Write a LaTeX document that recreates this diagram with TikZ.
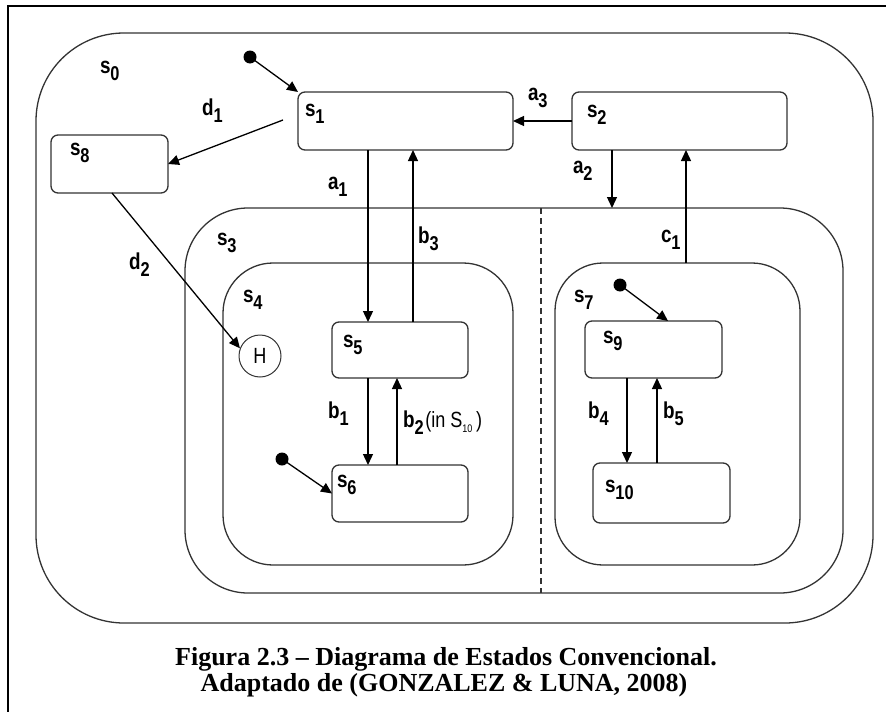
\documentclass[tikz,border=0pt]{standalone}
\usepackage{fontspec}
\setmainfont{Liberation Serif}
\newfontfamily\lblfont[FakeStretch=0.82]{Liberation Sans}
\usetikzlibrary{arrows.meta,calc}
\newcommand{\stl}[2]{{\lblfont\bfseries\fontsize{23}{23}\selectfont #1\raisebox{-7.5pt}{\fontsize{20}{20}\selectfont #2}}}
\begin{document}
\begin{tikzpicture}[x=1pt,y=-1pt,
  container/.style={draw=black!80, line width=1.3pt, rounded corners=#1, outer sep=0pt, inner sep=0pt},
  statebox/.style={draw=black!80, line width=1.3pt, rounded corners=7pt, outer sep=0pt, inner sep=0pt},
  arr/.style={draw=black, line width=1.3pt, -{Triangle[length=11pt,width=10pt]}},
  lab/.style={anchor=base west, inner sep=0pt, outer sep=0pt},
  initdot/.style={circle, fill=black, minimum size=13pt, inner sep=0pt},
  captxt/.style={anchor=base, inner sep=0pt, font=\bfseries\fontsize{26}{26}\selectfont}]
\useasboundingbox (0,0) rectangle (886,712);

% frame
\coordinate (ftl) at (8,6);
\coordinate (ftr) at (886,6);
\coordinate (fbl) at (8,712);
\draw[line width=2pt] (fbl) -- (ftl) -- (ftr);

% containers
\node[container=88pt, minimum width=837pt, minimum height=590pt] (s0) at (454.5,328) {};
\node[container=63pt, minimum width=658pt, minimum height=385pt] (s3) at (514,400.5) {};
\node[container=50pt, minimum width=290pt, minimum height=302pt] (s4) at (368,414) {};
\node[container=48pt, minimum width=245pt, minimum height=302pt] (s7) at (677.5,414) {};

% states
\node[statebox, minimum width=215pt, minimum height=58pt] (s1) at (405.5,121) {};
\node[statebox, minimum width=215pt, minimum height=58pt] (s2) at (679.5,121) {};
\node[statebox, minimum width=117pt, minimum height=58pt] (s8) at (109.5,164) {};
\node[statebox, minimum width=136pt, minimum height=56pt] (s5) at (400,350) {};
\node[statebox, minimum width=136pt, minimum height=57pt] (s6) at (400,493.5) {};
\node[statebox, minimum width=137pt, minimum height=57pt] (s9) at (653.5,349.5) {};
\node[statebox, minimum width=137pt, minimum height=60pt] (s10) at (661.5,493) {};
\node[circle, draw=black!80, line width=1pt, minimum size=42pt, inner sep=0pt,
      font=\lblfont\fontsize{22}{22}\selectfont] (H) at (260,356) {H};

% state labels
\node[lab] (l0) at (100,73) {\stl{s}{0}};
\node[lab] (l1) at (305,116) {\stl{s}{1}};
\node[lab] (l2) at (587,117) {\stl{s}{2}};
\node[lab] (l8) at (70,155) {\stl{s}{8}};
\node[lab] (l3) at (217,245) {\stl{s}{3}};
\node[lab] (l4) at (243,302) {\stl{s}{4}};
\node[lab] (l5) at (343,347) {\stl{s}{5}};
\node[lab] (l6) at (337,487) {\stl{s}{6}};
\node[lab] (l7) at (574,302) {\stl{s}{7}};
\node[lab] (l9) at (603,343) {\stl{s}{9}};
\node[lab] (l10) at (605,492) {\stl{s}{10}};

% dashed separator
\coordinate (xd) at (541,0);
\draw[black!80, line width=1.2pt, dash pattern=on 6pt off 4pt] (s3.north -| xd) -- (s3.south -| xd);

% x positions of vertical transitions
\coordinate (xa1) at (368,0);
\coordinate (xb3) at (413,0);
\coordinate (xb2) at (397,0);
\coordinate (xa2) at (612,0);
\coordinate (xc1) at (686,0);
\coordinate (xb4) at (627,0);
\coordinate (xb5) at (657,0);
\coordinate (xi9) at (668,0);
\coordinate (xd2) at (112,0);

% initial pseudo-states
\node[initdot] (i1) at (250,57) {};
\node[initdot] (i6) at (282,459) {};
\node[initdot] (i9) at (620,285) {};
\draw[arr] (i1.center) -- (s1.north west);
\draw[arr] (i6.center) -- (s6.west);
\draw[arr] (i9.center) -- (s9.north -| xi9);

% transitions
\draw[arr] (s2.west) -- (s1.east);
\draw[arr] ([xshift=-15pt,yshift=1pt]s1.west) -- (s8.east);
\draw[arr] (s8.south -| xd2) -- (H.159);
\draw[arr] (s1.south -| xa1) -- (s5.north -| xa1);
\draw[arr] (s5.north -| xb3) -- (s1.south -| xb3);
\draw[arr] (s2.south -| xa2) -- (s3.north -| xa2);
\draw[arr] (s7.north -| xc1) -- (s2.south -| xc1);
\draw[arr] (s5.south -| xa1) -- (s6.north -| xa1);
\draw[arr] (s6.north -| xb2) -- (s5.south -| xb2);
\draw[arr] (s9.south -| xb4) -- (s10.north -| xb4);
\draw[arr] (s10.north -| xb5) -- (s9.south -| xb5);

% transition labels
\node[lab] (td1) at (202,115) {\stl{d}{1}};
\node[lab] (ta3) at (528,100) {\stl{a}{3}};
\node[lab] (ta1) at (328,189) {\stl{a}{1}};
\node[lab] (tb3) at (418,243) {\stl{b}{3}};
\node[lab] (ta2) at (573,173) {\stl{a}{2}};
\node[lab] (tc1) at (661,242) {\stl{c}{1}};
\node[lab] (td2) at (129,269) {\stl{d}{2}};
\node[lab] (tb1) at (328,418) {\stl{b}{1}};
\node[lab] (tb2) at (403,427) {\stl{b}{2}\,{\lblfont\fontsize{22}{22}\selectfont(in S\raisebox{-5pt}{\fontsize{11}{11}\selectfont 10}\,)}};
\node[lab] (tb4) at (588,418) {\stl{b}{4}};
\node[lab] (tb5) at (663,418) {\stl{b}{5}};

% caption
\node[captxt] (cap1) at (446,665) {Figura 2.3 – Diagrama de Estados Convencional.};
\node[captxt] (cap2) at (444,691) {Adaptado de (GONZALEZ \& LUNA, 2008)};
\end{tikzpicture}
\end{document}
